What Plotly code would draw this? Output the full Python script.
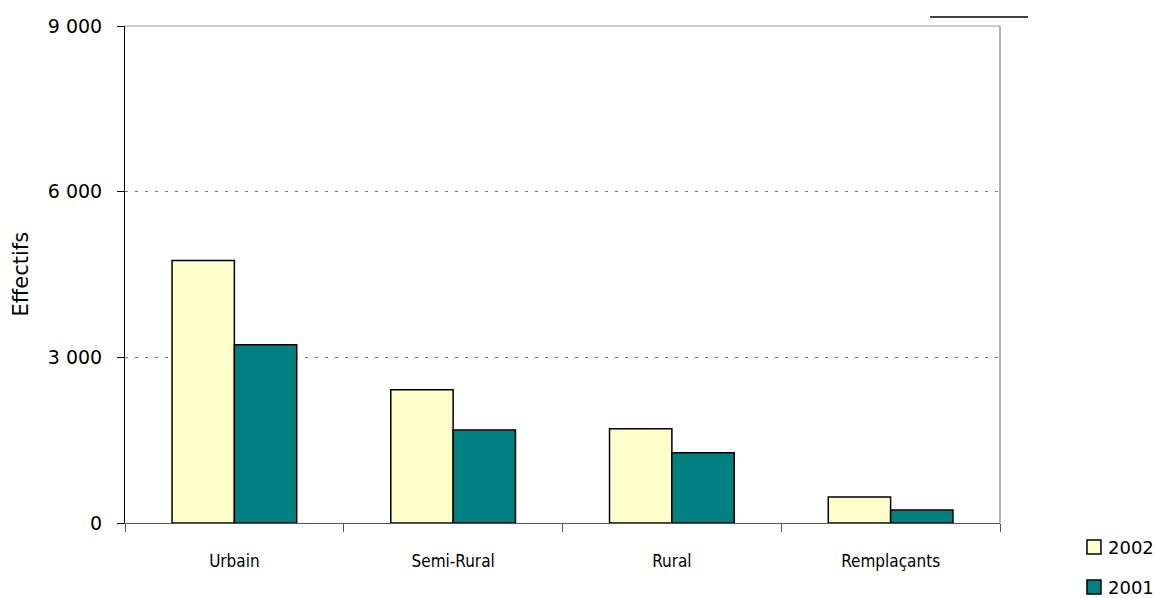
import plotly.graph_objects as go

categories = ["Urbain", "Semi-Rural", "Rural", "Remplaçants"]
values_2002 = [4755, 2414, 1706, 472]
values_2001 = [3230, 1682, 1270, 236]
y_ticks = [0, 3000, 6000, 9000]
series_names = ["2002", "2001"]
series_colors = ["#FFFFCC", "#008080"]

fig = go.Figure()
for name, vals, col in zip(series_names, [values_2002, values_2001], series_colors):
    fig.add_trace(go.Bar(name=name, x=categories, y=vals,
                         marker=dict(color=col, line=dict(color="black", width=1.5))))

fig.update_layout(
    width=1154, height=590,
    margin=dict(l=117, r=162, t=18, b=75),
    paper_bgcolor="white", plot_bgcolor="white",
    barmode="group", bargap=0.43, bargroupgap=0,
    separators=", ",
    font=dict(family="DejaVu Sans", size=18, color="black"),
    showlegend=False,
    xaxis=dict(showline=True, linecolor="#555", linewidth=1, automargin=False,
               ticks="outside", tickson="boundaries", ticklen=8, tickcolor="#555",
               ticklabelstandoff=23,
               tickfont=dict(family="Comic Sans MS, DejaVu Sans Condensed", size=17),
               showgrid=False),
    yaxis=dict(range=[0, 9000], tickvals=y_ticks, tickformat=",d", automargin=False,
               showline=True, linecolor="black", linewidth=1,
               ticks="outside", ticklen=7, tickcolor="black",
               ticklabelstandoff=11, tickfont=dict(size=19),
               showgrid=True, gridcolor="#777", griddash="3px,7px", gridwidth=1,
               zeroline=False),
)

# y-axis title
fig.add_annotation(text="Effectifs", xref="paper", yref="paper", x=-0.12, y=0.5,
                   textangle=-90, showarrow=False, xanchor="center", yanchor="middle",
                   font=dict(size=21, family="DejaVu Sans"))

# top and right frame lines (gray)
fig.add_shape(type="line", xref="paper", yref="paper", x0=0, x1=1, y0=1, y1=1,
              line=dict(color="#999", width=1))
fig.add_shape(type="line", xref="paper", yref="paper", x0=1, x1=1, y0=0, y1=1,
              line=dict(color="#999", width=1.5))
# small black line at top right
fig.add_shape(type="line", xref="paper", yref="paper", x0=0.92, x1=1.032, y0=1.018, y1=1.018,
              line=dict(color="black", width=1.5))

# legend drawn manually (bottom right)
leg_y = [-0.0483, -0.1288]
for name, col, yc in zip(series_names, series_colors, leg_y):
    fig.add_shape(type="rect", xref="paper", yref="paper",
                  x0=1.0994, x1=1.1154, y0=yc - 0.0141, y1=yc + 0.0141,
                  fillcolor=col, line=dict(color="black", width=1.5))
    fig.add_annotation(text=name, xref="paper", yref="paper", x=1.1215, y=yc,
                       xanchor="left", yanchor="middle", showarrow=False,
                       font=dict(size=18, family="DejaVu Sans"))

fig.write_html("out.html")
